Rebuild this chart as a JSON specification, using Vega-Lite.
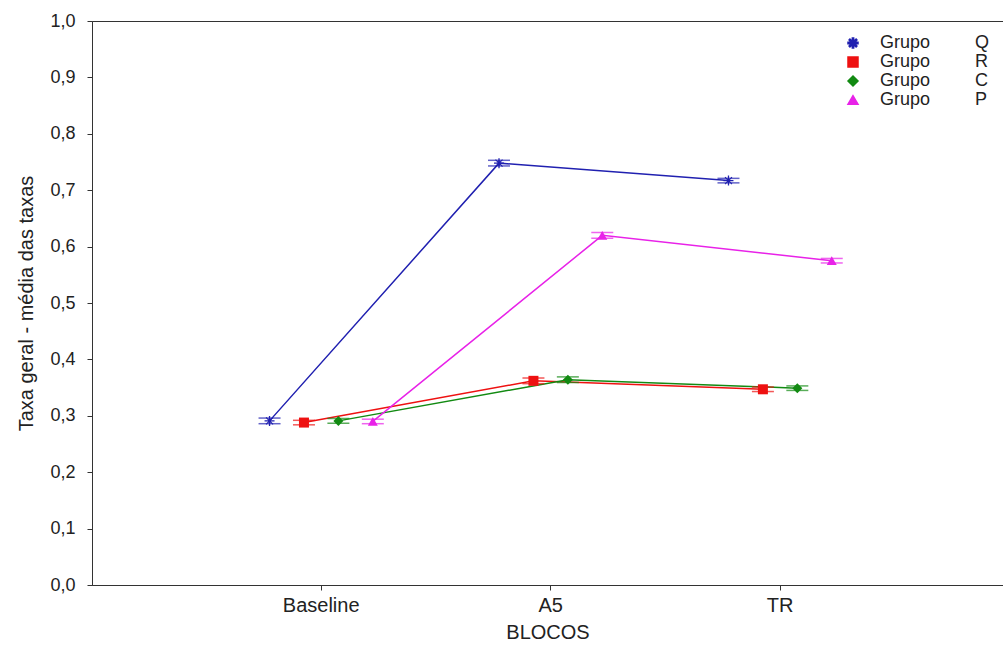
{
  "$schema": "https://vega.github.io/schema/vega-lite/v6.json",
  "autosize": {"type": "none"},
  "padding": {"left": 92, "top": 21, "right": 0, "bottom": 61},
  "width": 911,
  "height": 564,
  "background": "white",
  "config": {
    "font": "Liberation Sans",
    "view": {"stroke": "#333333", "strokeWidth": 1},
    "point": {"opacity": 1, "filled": true},
    "legend": {"symbolOpacity": 1}
  },
  "data": {
    "values": [
      {"grupo": "Q", "bloco": "Baseline", "ordem": 1, "taxa": 0.291, "lo": 0.286, "hi": 0.296},
      {"grupo": "Q", "bloco": "A5", "ordem": 2, "taxa": 0.748, "lo": 0.743, "hi": 0.753},
      {"grupo": "Q", "bloco": "TR", "ordem": 3, "taxa": 0.717, "lo": 0.713, "hi": 0.721},
      {"grupo": "R", "bloco": "Baseline", "ordem": 1, "taxa": 0.288, "lo": 0.284, "hi": 0.292},
      {"grupo": "R", "bloco": "A5", "ordem": 2, "taxa": 0.362, "lo": 0.357, "hi": 0.367},
      {"grupo": "R", "bloco": "TR", "ordem": 3, "taxa": 0.347, "lo": 0.343, "hi": 0.351},
      {"grupo": "C", "bloco": "Baseline", "ordem": 1, "taxa": 0.291, "lo": 0.287, "hi": 0.295},
      {"grupo": "C", "bloco": "A5", "ordem": 2, "taxa": 0.364, "lo": 0.359, "hi": 0.369},
      {"grupo": "C", "bloco": "TR", "ordem": 3, "taxa": 0.349, "lo": 0.345, "hi": 0.353},
      {"grupo": "P", "bloco": "Baseline", "ordem": 1, "taxa": 0.290, "lo": 0.286, "hi": 0.294},
      {"grupo": "P", "bloco": "A5", "ordem": 2, "taxa": 0.620, "lo": 0.615, "hi": 0.625},
      {"grupo": "P", "bloco": "TR", "ordem": 3, "taxa": 0.575, "lo": 0.571, "hi": 0.579}
    ]
  },
  "encoding": {
    "x": {
      "field": "bloco",
      "type": "nominal",
      "scale": {"type": "band", "domain": ["Baseline", "A5", "TR"], "paddingInner": 0.4, "paddingOuter": 0.685, "align": 0.51},
      "axis": {
        "title": "BLOCOS",
        "labelAngle": 0,
        "labelFontSize": 20,
        "labelColor": "#222222",
        "labelPadding": 5,
        "tickSize": 5,
        "tickColor": "#333333",
        "domainColor": "#333333",
        "titleFontSize": 20,
        "titleFontWeight": "normal",
        "titleColor": "#222222",
        "titlePadding": 7
      }
    },
    "xOffset": {
      "field": "grupo",
      "type": "nominal",
      "scale": {"domain": ["Q", "R", "C", "P"], "paddingInner": 0, "paddingOuter": 0}
    },
    "color": {
      "field": "grupo",
      "type": "nominal",
      "scale": {"domain": ["Q", "R", "C", "P"], "range": ["#2020b0", "#ee1111", "#128a12", "#e822e8"]}
    }
  },
  "layer": [
    {
      "mark": {"type": "line", "strokeWidth": 1.5},
      "encoding": {
        "y": {
          "field": "taxa",
          "type": "quantitative",
          "scale": {"domain": [0, 1], "nice": false, "zero": true},
          "axis": {
            "title": "Taxa geral - média das taxas",
            "values": [0, 0.1, 0.2, 0.3, 0.4, 0.5, 0.6, 0.7, 0.8, 0.9, 1.0],
            "labelExpr": "replace(format(datum.value, '.1f'), '.', ',')",
            "grid": false,
            "labelFontSize": 18,
            "labelColor": "#222222",
            "labelPadding": 12,
            "tickSize": 5,
            "tickColor": "#333333",
            "domainColor": "#333333",
            "titleFontSize": 20,
            "titleFontWeight": "normal",
            "titleColor": "#222222",
            "titlePadding": 13
          }
        },
        "order": {"field": "ordem", "type": "quantitative"}
      }
    },
    {
      "mark": {"type": "rule", "strokeWidth": 1.5},
      "encoding": {
        "y": {"field": "lo", "type": "quantitative"},
        "y2": {"field": "hi"}
      }
    },
    {
      "mark": {"type": "tick", "size": 22, "thickness": 1.5, "orient": "horizontal"},
      "encoding": {
        "y": {"field": "lo", "type": "quantitative"}
      }
    },
    {
      "mark": {"type": "tick", "size": 22, "thickness": 1.5, "orient": "horizontal"},
      "encoding": {
        "y": {"field": "hi", "type": "quantitative"}
      }
    },
    {
      "mark": {"type": "point", "filled": true, "opacity": 1},
      "encoding": {
        "y": {"field": "taxa", "type": "quantitative"},
        "shape": {
          "field": "grupo",
          "type": "nominal",
          "scale": {
            "domain": ["Q", "R", "C", "P"],
            "range": [
              "M-1,-0.13L1,-0.13L1,0.13L-1,0.13Z M-0.13,-1L0.13,-1L0.13,1L-0.13,1Z M-0.62,-0.78L0.78,0.62L0.62,0.78L-0.78,-0.62Z M0.62,-0.78L0.78,-0.62L-0.62,0.78L-0.78,0.62Z",
              "square",
              "diamond",
              "triangle-up"
            ]
          },
          "legend": {
            "orient": "none",
            "legendX": 752,
            "legendY": 13,
            "title": null,
            "labelFontSize": 18,
            "labelColor": "#222222",
            "labelExpr": "'Grupo\u00a0\u00a0\u00a0\u00a0\u00a0\u00a0\u00a0\u00a0\u00a0' + datum.label",
            "symbolSize": 100,
            "symbolOpacity": 1,
            "rowPadding": 1,
            "labelOffset": 18,
            "padding": 0,
            "encode": {
              "symbols": {
                "enter": {
                  "opacity": {"value": 1},
                  "fillOpacity": {"value": 1}
                },
                "update": {
                  "opacity": {"value": 1},
                  "fillOpacity": {"value": 1}
                }
              }
            }
          }
        },
        "size": {"value": 100}
      }
    }
  ]
}
